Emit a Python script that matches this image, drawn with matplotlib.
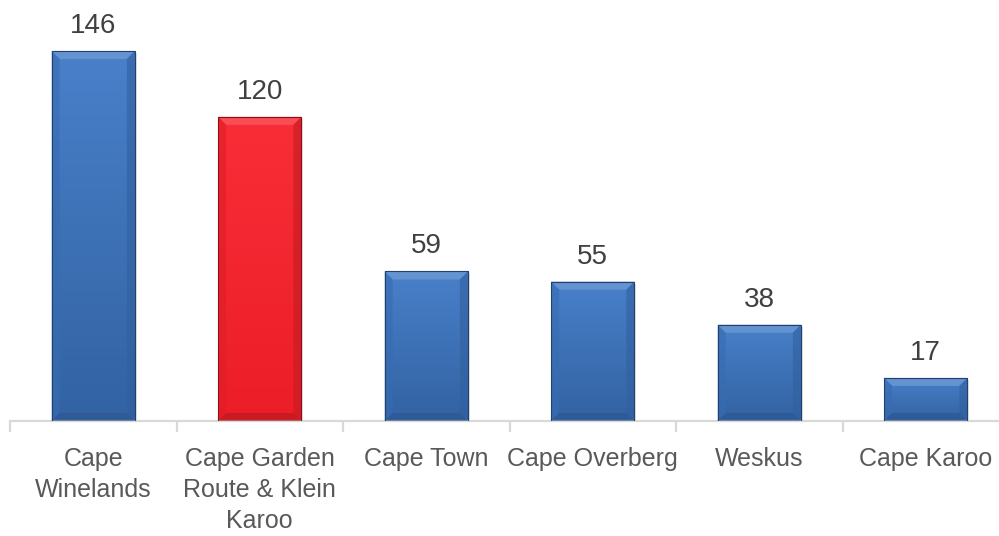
import numpy as np
import matplotlib.pyplot as plt
from matplotlib.colors import to_rgb
from matplotlib.patches import Polygon

regions = ['Cape\nWinelands', 'Cape Garden\nRoute & Klein\nKaroo', 'Cape Town',
           'Cape Overberg', 'Weskus', 'Cape Karoo']
counts = [146, 120, 59, 55, 38, 17]
bar_colors = ['#3d78c6', '#f8202a', '#3d78c6', '#3d78c6', '#3d78c6', '#3d78c6']

label_font = ['Liberation Sans Narrow', 'Liberation Sans', 'DejaVu Sans']
tick_font = ['Liberation Sans', 'DejaVu Sans']

fig = plt.figure(figsize=(9.99, 5.36), dpi=100)
ax = fig.add_axes([10 / 999, 115 / 536, 999 / 999, 421 / 536])
ax.set_xlim(-0.5, len(regions) - 0.5)
ax.set_ylim(0, 166.1)

x = np.arange(len(regions))
bars = ax.bar(x, counts, width=0.5, color='none', edgecolor='none', zorder=2)

# pixel -> data scale factors for the bevel edges
px_x = (len(regions)) / (ax.get_position().width * fig.get_figwidth() * fig.dpi)
px_y = 166.1 / (ax.get_position().height * fig.get_figheight() * fig.dpi)


def shade(rgb, f):
    rgb = np.array(rgb)
    if f >= 0:
        return tuple(rgb + (1 - rgb) * f)
    return tuple(rgb * (1 + f))


for rect, col in zip(bars, bar_colors):
    x0, y0 = rect.get_x(), rect.get_y()
    w, h = rect.get_width(), rect.get_height()
    x1, y1 = x0 + w, y0 + h
    base = to_rgb(col)
    red = base[0] > 0.8

    # soft drop shadow
    ax.add_patch(plt.Rectangle((x0 + 2 * px_x, y0 - 2 * px_y), w, h,
                               color='#000000', alpha=0.12, lw=0, zorder=1))

    # vertical gradient body
    grad = np.linspace(0, 1, 64)[:, None]
    top = np.array(shade(base, 0.06))
    bottom = np.array(shade(base, -0.05 if red else -0.18))
    img = top * grad[..., None] + bottom * (1 - grad[..., None])
    im = ax.imshow(img, extent=(x0, x1, y0, y1), origin='lower',
                   aspect='auto', zorder=2, interpolation='bilinear')
    im.set_clip_path(rect)

    # bevel edges
    bx, by = 8 * px_x, 8 * px_y
    edges = [
        ([(x0, y1), (x1, y1), (x1 - bx, y1 - by), (x0 + bx, y1 - by)], 0.22, 0.9),
        ([(x0, y0), (x0, y1), (x0 + bx, y1 - by), (x0 + bx, y0 + by)], -0.1, 0.6),
        ([(x1, y0), (x1, y1), (x1 - bx, y1 - by), (x1 - bx, y0 + by)], -0.2, 0.6),
        ([(x0, y0), (x1, y0), (x1 - bx, y0 + by), (x0 + bx, y0 + by)], -0.28, 0.6),
    ]
    for pts, f, a in edges:
        ax.add_patch(Polygon(pts, closed=True, color=shade(base, f), alpha=a,
                             lw=0, zorder=3))
    ax.add_patch(plt.Rectangle((x0, y0), w, h, fill=False,
                               edgecolor=shade(base, -0.45), lw=0.8, zorder=4))

    ax.annotate(f'{int(h)}', (rect.get_x() + w / 2, y1), xytext=(0, 13),
                textcoords='offset points', ha='center', va='baseline',
                fontsize=20, color='#404040', family=label_font)

for s in ['top', 'right', 'left']:
    ax.spines[s].set_visible(False)
ax.spines['bottom'].set_color('#d9d9d9')
ax.spines['bottom'].set_linewidth(1.6)
ax.set_yticks([])

ax.set_xticks(x)
ax.set_xticklabels(regions, fontsize=18, color='#595959', family=tick_font,
                   linespacing=1.36)
ax.tick_params(axis='x', which='major', length=0, pad=19)
ax.set_xticks(np.arange(len(regions) + 1) - 0.5, minor=True)
ax.tick_params(axis='x', which='minor', length=8, width=1.6, color='#d9d9d9')

fig.savefig('out.png', dpi=100)
